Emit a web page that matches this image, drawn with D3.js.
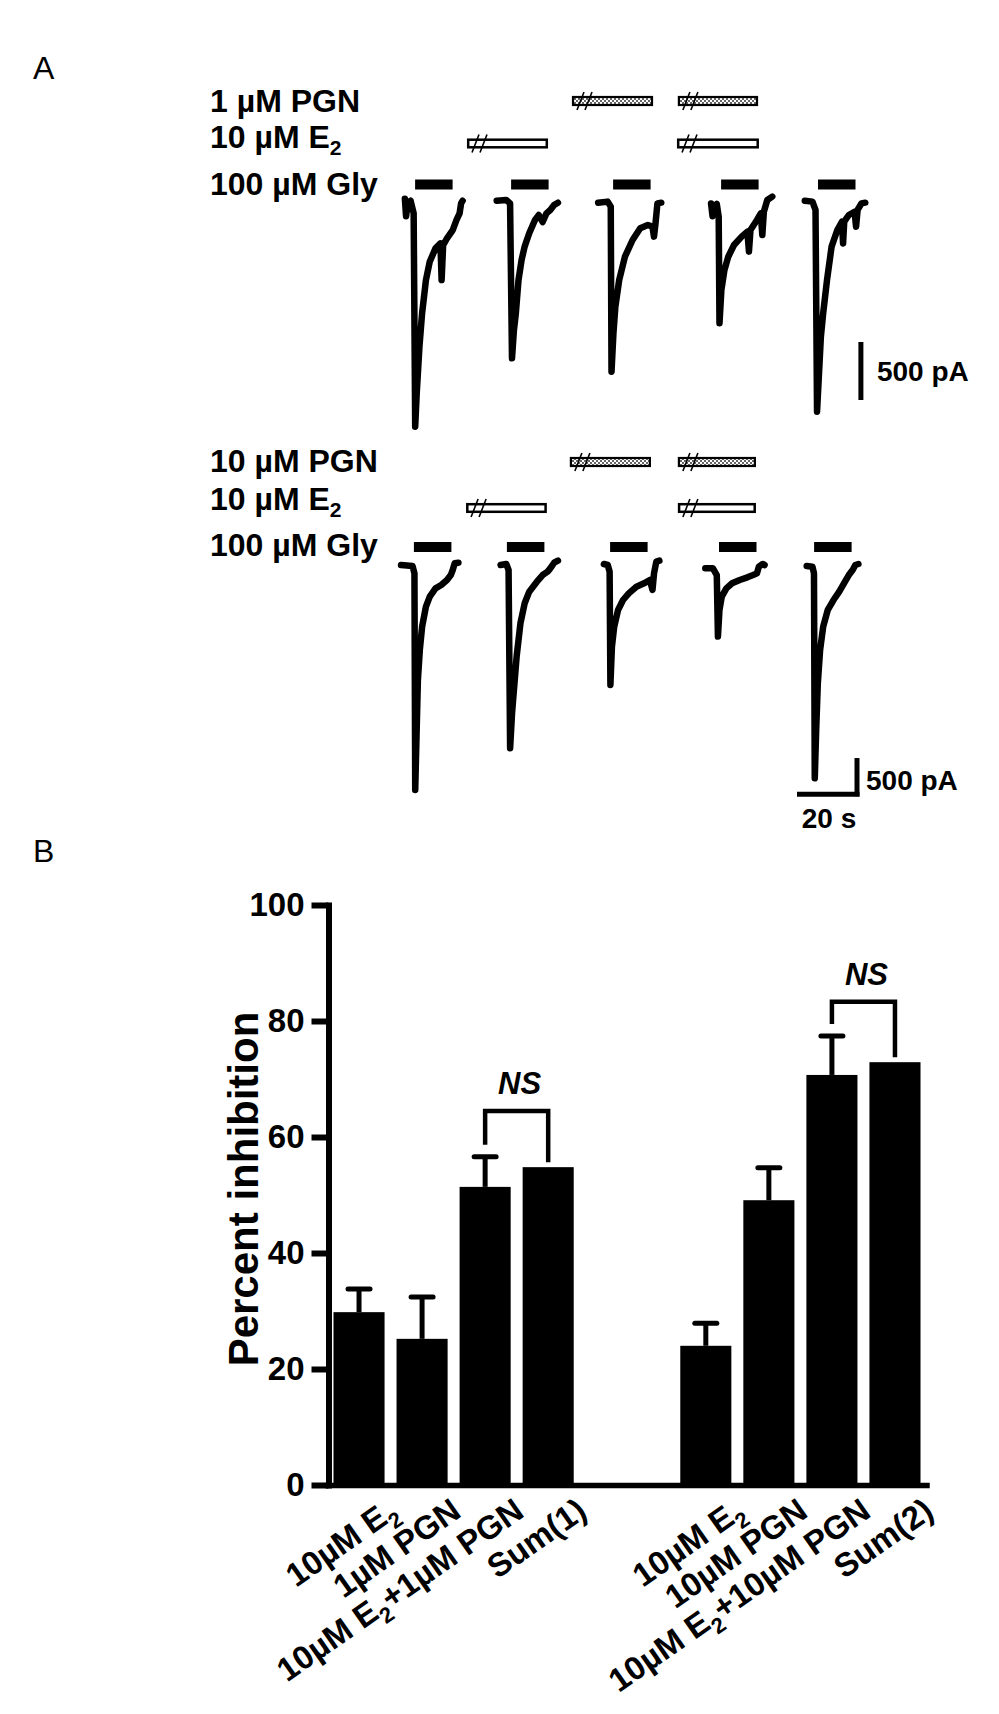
<!DOCTYPE html>
<html><head><meta charset="utf-8">
<script src="https://cdn.jsdelivr.net/npm/d3@7"></script>
<style>
body{margin:0;background:#fff}
text{font-family:"Liberation Sans",Arial,Helvetica,sans-serif;fill:#000}
</style>
</head><body>
<svg id="c" width="999" height="1714" xmlns="http://www.w3.org/2000/svg"></svg>
<script>
// ---------------- DATA: Panel B ----------------
const categories = ["10µM E2","1µM PGN","10µM E2+1µM PGN","Sum(1)","10µM E2","10µM PGN","10µM E2+10µM PGN","Sum(2)"];
const groupIndex = [0,0,0,0,1,1,1,1];
const meanValues = [29.8,25.2,51.4,54.8,24.0,49.1,70.7,72.9];
const semValues  = [4.0,7.2,5.2,null,3.9,5.6,6.7,null];
const yTicks = [0,20,40,60,80,100];
const compareA = [2,6];
const compareB = [3,7];
const compareLevel = [64.5,83.3];
const compareLabel = ["NS","NS"];

// ---------------- DATA: Panel A (time in s, current in pA) ----------------
const row1Labels = ["1 µM PGN","10 µM E2","100 µM Gly"];
const row2Labels = ["10 µM PGN","10 µM E2","100 µM Gly"];
const row1SweepStart = [8.29,38.9,72.71,110.35,141.6];
const row2SweepStart = [7.02,40.18,74.63,108.43,142.24];
const row1GlyOn = [11.7,43.7,77.7,113.7,146.0];
const row2GlyOn = [11.3,42.3,76.7,113.0,144.7];
const glyDuration = 12.5;
const row1E2 = [[29,56],[99,126.3]];
const row2E2 = [[28.7,55.6],[99.3,125.3]];
const row1PGN = [[64,91],[99.3,126]];
const row2PGN = [[63.3,90.3],[99.3,125.3]];

const row1Traces = [
 [[0,10],[0.4,-140],[1.0,-20],[1.91,-6],[2.93,-115],[3.44,-1954],[3.95,-1667],[4.85,-1265],[5.74,-977],[7.02,-690],[8.29,-532],[10.2,-417],[11.86,-374],[12.25,-690],[12.76,-388],[14.03,-331],[15.95,-259],[17.22,-172],[18.24,-115],[18.75,-29],[19.26,-6]],
 [[0,-6],[3.19,0],[4.46,-29],[5.10,-1365],[5.74,-1121],[6.38,-977],[7.27,-690],[8.29,-517],[9.31,-402],[10.84,-287],[12.76,-172],[14.03,-129],[15.31,-190],[16.58,-115],[17.86,-86],[19.13,-43],[20.41,-23]],
 [[0,-23],[3.19,-14],[4.21,-57],[4.46,-1480],[5.10,-1150],[5.74,-920],[7.02,-690],[8.93,-489],[11.48,-345],[14.03,-244],[16.58,-216],[18.11,-230],[18.62,-316],[19.13,-201],[19.77,-29],[21.05,-23]],
 [[0,-30],[0.5,-140],[1.2,-60],[1.91,-34],[2.55,-144],[2.81,-1063],[3.44,-776],[4.46,-604],[5.74,-489],[7.65,-388],[10.2,-316],[12.12,-273],[12.63,-445],[13.14,-259],[15.31,-172],[16.58,-115],[17.09,-302],[17.6,-101],[18.75,0],[20.41,29]],
 [[0,-6],[2.55,-14],[3.57,-86],[4.08,-1825],[4.85,-1437],[5.36,-1178],[6.12,-977],[7.40,-690],[8.93,-402],[10.84,-259],[12.37,-187],[12.76,-374],[13.14,-187],[14.67,-129],[16.58,-101],[17.09,-230],[17.6,-86],[18.88,-29],[20.16,-23]]
];
const row2Traces = [
 [[0,0],[3.83,-13],[4.46,-109],[4.72,-2937],[5.23,-2110],[5.61,-1501],[6.25,-1110],[7.02,-805],[8.29,-544],[9.57,-413],[11.48,-305],[13.39,-261],[15.31,-196],[16.58,-131],[17.22,-65],[17.86,22],[19.13,30]],
 [[0,0],[1.91,13],[2.68,-65],[3.19,-2393],[3.83,-1936],[4.46,-1632],[5.36,-1197],[6.63,-761],[8.04,-500],[9.57,-348],[12.12,-218],[14.03,-131],[15.69,-87],[16.58,-44],[17.86,30],[19.13,57]],
 [[0,13],[1.28,0],[1.91,-87],[2.17,-1566],[2.68,-1066],[3.44,-805],[4.72,-587],[6.38,-457],[8.29,-370],[10.84,-283],[13.39,-239],[15.31,-196],[16.2,-326],[16.71,-109],[17.48,44],[18.5,57]],
 [[0,-44],[2.55,-44],[3.83,-131],[4.21,-935],[4.72,-587],[5.49,-413],[7.02,-305],[8.93,-239],[11.48,-196],[14.03,-161],[15.95,-131],[17.22,-109],[17.86,-22],[19.13,13],[19.77,0]],
 [[0,-13],[1.91,-22],[2.42,-109],[2.68,-2785],[3.19,-2110],[3.7,-1545],[4.46,-1110],[5.49,-805],[7.02,-587],[8.93,-457],[10.84,-348],[12.76,-218],[14.03,-131],[15.31,-65],[16.2,0],[17.22,13]]
];
// scale bars: [time s, current pA]
const row1ScaleBar = {t:160.3, i0:-1224, amp:500, label:"500 pA"};
const row2ScaleBar = {t:159, i0:-2520, amp:500, dur:20, label:"500 pA", tlabel:"20 s"};

// ---------------- DRAW ----------------
const svg = d3.select("#c");
const defs = svg.append("defs");
const pat = defs.append("pattern").attr("id","dots").attr("patternUnits","userSpaceOnUse")
  .attr("width",4).attr("height",4);
pat.append("rect").attr("width",4).attr("height",4).attr("fill","#fff");
pat.append("rect").attr("width",2).attr("height",2).attr("fill","#666");
pat.append("rect").attr("x",2).attr("y",2).attr("width",2).attr("height",2).attr("fill","#666");

svg.append("text").attr("x",33).attr("y",79).text("A").style("font-size","32px");
svg.append("text").attr("x",33).attr("y",862).text("B").style("font-size","32px");

const tScale = d3.scaleLinear().domain([0,200]).range([380,980]);

function subLabel(sel, str, x, y, size, subSize, subDy){
  const t = sel.append("text").attr("x",x).attr("y",y)
     .style("font-size",size+"px").style("font-weight","bold");
  const m = str.match(/^(.*E)2(.*)$/);
  if(m){
    t.append("tspan").text(m[1]);
    t.append("tspan").text("2").style("font-size",subSize+"px").attr("dy",subDy);
    if(m[2]) t.append("tspan").text(m[2]).attr("dy",-subDy);
  } else t.text(str);
  return t;
}

function drawRow(cfg){
  const g = svg.append("g");
  const y = d3.scaleLinear().domain([0,-500]).range([cfg.base, cfg.base+cfg.px500]);
  cfg.labels.forEach((s,k)=> subLabel(g, s, 210, cfg.textY[k], 32, 21, 7));
  function slashes(x0, yc){
    [5,13].forEach(o=>{
      g.append("line").attr("x1",x0+o).attr("y1",yc+9).attr("x2",x0+o+7).attr("y2",yc-9)
        .attr("stroke","#000").attr("stroke-width",1.6);
    });
  }
  cfg.pgn.forEach(w=>{
    g.append("rect").attr("x",tScale(w[0])+1).attr("y",cfg.barY[0]-4).attr("width",tScale(w[1])-tScale(w[0])-2)
      .attr("height",8).attr("fill","url(#dots)").attr("stroke","#000").attr("stroke-width",2.2);
    slashes(tScale(w[0]), cfg.barY[0]);
  });
  cfg.e2.forEach(w=>{
    g.append("rect").attr("x",tScale(w[0])+1.2).attr("y",cfg.barY[1]-3.8).attr("width",tScale(w[1])-tScale(w[0])-2.4)
      .attr("height",7.6).attr("fill","#fff").attr("stroke","#000").attr("stroke-width",2.5);
    slashes(tScale(w[0]), cfg.barY[1]);
  });
  cfg.gly.forEach(t0=>{
    g.append("rect").attr("x",tScale(t0)).attr("y",cfg.barY[2]-5).attr("width",tScale(t0+glyDuration)-tScale(t0))
      .attr("height",10).attr("fill","#000");
  });
  cfg.traces.forEach((tr,k)=>{
    const st = cfg.starts[k];
    const line = d3.line().x(d=>tScale(st+d[0])).y(d=>y(d[1]));
    g.append("path").attr("d",line(tr)).attr("fill","none").attr("stroke","#000")
      .attr("stroke-width",6.5).attr("stroke-linejoin","round").attr("stroke-linecap","round");
  });
  const sb = cfg.sb;
  g.append("line").attr("x1",tScale(sb.t)).attr("x2",tScale(sb.t))
    .attr("y1",y(sb.i0)).attr("y2",y(sb.i0-sb.amp)).attr("stroke","#000").attr("stroke-width",5);
  if(sb.dur){
    g.append("line").attr("x1",tScale(sb.t-sb.dur)).attr("x2",tScale(sb.t)+2.5)
      .attr("y1",y(sb.i0-sb.amp)-2).attr("y2",y(sb.i0-sb.amp)-2).attr("stroke","#000").attr("stroke-width",5);
    g.append("text").attr("x",tScale(sb.t-sb.dur/2)+2).attr("y",y(sb.i0-sb.amp)+32)
      .attr("text-anchor","middle").style("font-size","28px").style("font-weight","bold").text(sb.tlabel);
  }
  g.append("text").attr("x",tScale(sb.t)+cfg.sbLabelDx).attr("y",cfg.sbLabelY)
    .style("font-size","28px").style("font-weight","bold").text(sb.label);
}

drawRow({labels:row1Labels, textY:[112,148,195], barY:[101,143.5,184.5], base:200, px500:58,
  starts:row1SweepStart, traces:row1Traces, gly:row1GlyOn, e2:row1E2, pgn:row1PGN,
  sb:row1ScaleBar, sbLabelDx:16, sbLabelY:381});
drawRow({labels:row2Labels, textY:[472,510,556], barY:[462,508,547], base:565, px500:38.3,
  starts:row2SweepStart, traces:row2Traces, gly:row2GlyOn, e2:row2E2, pgn:row2PGN,
  sb:row2ScaleBar, sbLabelDx:9, sbLabelY:790});

// ---------------- Panel B ----------------
const pos = categories.map((c,i)=> i + groupIndex[i]*1.5);
const x = d3.scaleLinear().domain([-0.5,9]).range([327.5,926.5]);
const y = d3.scaleLinear().domain([0,100]).range([1485,905]);
const bw = (x(1)-x(0))*0.81;

const gB = svg.append("g");
gB.selectAll("rect.bar").data(meanValues).enter().append("rect")
  .attr("x",(d,i)=>x(pos[i])-bw/2).attr("width",bw)
  .attr("y",d=>y(d)).attr("height",d=>y(0)-y(d)).attr("fill","#000");
meanValues.forEach((m,i)=>{
  const s = semValues[i]; if(s==null) return;
  const cx = x(pos[i]);
  gB.append("line").attr("x1",cx).attr("x2",cx).attr("y1",y(m)).attr("y2",y(m+s))
    .attr("stroke","#000").attr("stroke-width",5);
  gB.append("line").attr("x1",cx-11).attr("x2",cx+11).attr("y1",y(m+s)).attr("y2",y(m+s))
    .attr("stroke","#000").attr("stroke-width",5).attr("stroke-linecap","round");
});
const yAxis = d3.axisLeft(y).tickValues(yTicks).tickSize(17).tickSizeOuter(0).tickPadding(7).tickFormat(d3.format("d"));
const ga = gB.append("g").attr("transform","translate(328.5,0)").call(yAxis);
ga.select(".domain").attr("stroke-width",6).attr("stroke-linecap","square");
ga.selectAll(".tick line").attr("stroke-width",6);
ga.selectAll(".tick text").style("font-size","33px").style("font-weight","bold")
  .style("font-family","'Liberation Sans',Arial,sans-serif").attr("fill","#000");
const xAxis = d3.axisBottom(x).tickValues([]).tickSizeOuter(0);
const gx = gB.append("g").attr("transform","translate(0,1485)").call(xAxis);
gx.select(".domain").attr("stroke-width",5.5).attr("stroke-linecap","square");

gB.append("text").attr("transform","translate(258,1189) rotate(-90)").attr("text-anchor","middle")
  .style("font-size","42px").style("font-weight","bold").text("Percent inhibition");

categories.forEach((c,i)=>{
  const cx = x(pos[i]);
  const t = gB.append("text").attr("text-anchor","end")
    .attr("transform",`translate(${cx+27},1496) rotate(-35)`)
    .attr("dy","0.72em").style("font-size","33px").style("font-weight","bold");
  const m = c.match(/^(.*E)2(.*)$/);
  if(m){
    t.append("tspan").text(m[1]);
    t.append("tspan").text("2").style("font-size","22px").attr("dy",9);
    if(m[2]) t.append("tspan").text(m[2]).attr("dy",-9);
  } else t.text(c);
});

compareA.forEach((a,k)=>{
  const b = compareB[k];
  const topA = semValues[a]!=null ? meanValues[a]+semValues[a] : meanValues[a];
  const topB = semValues[b]!=null ? meanValues[b]+semValues[b] : meanValues[b];
  const xa = x(pos[a]), xb = x(pos[b]);
  const yl = y(compareLevel[k]);
  gB.append("path").attr("d",`M${xa},${y(topA)-12}V${yl}H${xb}V${y(topB)-5}`)
    .attr("fill","none").attr("stroke","#000").attr("stroke-width",4.5);
  gB.append("text").attr("x",(xa+xb)/2+3).attr("y",yl-17).attr("text-anchor","middle")
    .style("font-size","31px").style("font-weight","bold").style("font-style","italic").text(compareLabel[k]);
});
</script>
</body></html>
